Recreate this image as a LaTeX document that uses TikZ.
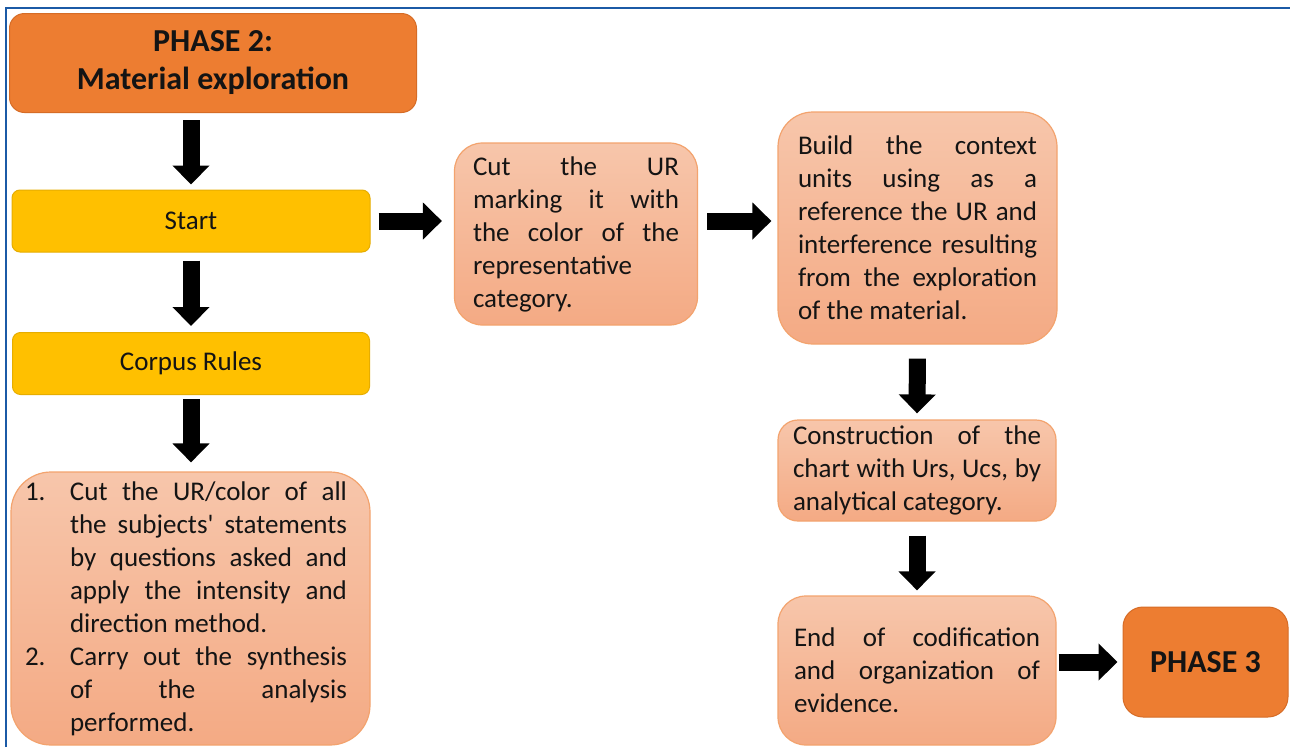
\documentclass[tikz,border=0pt]{standalone}
\usepackage{fontspec}
\setmainfont{Carlito}[Ligatures=TeXOff]
\usetikzlibrary{arrows.meta}
\definecolor{phase}{HTML}{ED7D31}
\definecolor{phaseB}{HTML}{D66C26}
\definecolor{yel}{HTML}{FFC000}
\definecolor{yelB}{HTML}{E6AD00}
\definecolor{salT}{HTML}{F7C6AB}
\definecolor{salB}{HTML}{F4AA84}
\definecolor{salE}{HTML}{F3A36E}
\definecolor{frameblue}{HTML}{1B5AA6}
\definecolor{txt}{HTML}{141414}
\begin{document}
\begin{tikzpicture}[x=1pt,y=-1pt,
  phasebox/.style={draw=phaseB, fill=phase, line width=1pt, inner sep=0pt,
    text=txt, align=center, font=\fontsize{32}{38}\selectfont\bfseries},
  yelbox/.style={draw=yelB, fill=yel, line width=1pt, rounded corners=8pt, inner sep=0pt,
    text=txt, font=\fontsize{27}{33}\selectfont},
  salbox/.style={draw=salE, top color=salT, bottom color=salB, line width=1.2pt, inner sep=0pt,
    text=txt, align=justify, font=\fontsize{27}{33}\selectfont},
  blkarrow/.style={draw=black, line width=17pt, -{Triangle[width=36pt,length=19pt]}}
]
\useasboundingbox (0,0) rectangle (1290,747);
\fill[white] (0,0) rectangle (1290,747);
\draw[frameblue, line width=2.5pt] (6,747) -- (6,8) -- (1290,8);

\node[phasebox, rounded corners=15pt, minimum width=407pt, minimum height=99pt] (ph2) at (213,63)
  {PHASE 2:\\Material exploration};
\node[yelbox, minimum width=358pt, minimum height=62pt] (start) at (191,221) {Start};
\node[yelbox, minimum width=357pt, minimum height=62pt] (corpus) at (191,363.5) {Corpus Rules};
\node[salbox, rounded corners=40pt, minimum width=359pt, minimum height=273pt, text width=322pt] (list) at (190.5,608.5)
  {{\leftskip=40.5pt\rightskip=4.5pt\relax\noindent\llap{\hbox to 45pt{1.\hfil}}Cut~the~UR/color~of~all \linebreak
   the~subjects'~statements \linebreak by~questions~asked~and \linebreak
   apply~the~intensity~and \linebreak direction~method.\par}%
   {\leftskip=40.5pt\rightskip=4.5pt\relax\noindent\llap{\hbox to 45pt{2.\hfil}}Carry~out~the~synthesis \linebreak
   of~the~analysis \linebreak performed.\par}};
\node[salbox, rounded corners=28pt, minimum width=243pt, minimum height=182pt, text width=206pt] (cut) at (576,234)
  {Cut~the~UR \linebreak marking~it~with \linebreak the~color~of~the \linebreak representative \linebreak category.};
\node[salbox, rounded corners=35pt, minimum width=279pt, minimum height=232pt, text width=239pt] (build) at (917.5,228)
  {Build~the~context \linebreak units~using~as~a \linebreak reference~the~UR~and \linebreak
   interference~resulting \linebreak from~the~exploration \linebreak of~the~material.};
\node[salbox, rounded corners=20pt, minimum width=278pt, minimum height=101pt, text width=248pt] (constr) at (917,470.5)
  {Construction~of~the \linebreak chart~with~Urs,~Ucs,~by \linebreak analytical~category.};
\node[salbox, rounded corners=28pt, minimum width=278pt, minimum height=149pt, text width=246pt] (end) at (917,670.5)
  {End~of~codification \linebreak and~organization~of \linebreak evidence.};
\node[phasebox, rounded corners=20pt, minimum width=165pt, minimum height=110pt] (ph3) at (1205.5,662) {PHASE 3};

\draw[blkarrow, shorten <=7pt, shorten >=5pt] (ph2.south -| start.north) -- (start.north);
\draw[blkarrow, shorten <=8pt, shorten >=6pt] (start.south) -- (corpus.north);
\draw[blkarrow, shorten <=4pt, shorten >=9pt] (corpus.south) -- (corpus.south |- list.north);
\draw[blkarrow, shorten <=8pt, shorten >=12pt] (start.east) -- (cut.west |- start.east);
\draw[blkarrow, shorten <=9pt, shorten >=6pt] (cut.east |- start.east) -- (build.west |- start.east);
\draw[blkarrow, shorten <=14pt, shorten >=6pt] (build.south) -- (constr.north);
\draw[blkarrow, shorten <=14pt, shorten >=5pt] (constr.south) -- (end.north);
\draw[blkarrow, shorten <=2pt, shorten >=5pt] (end.east |- ph3.west) -- (ph3.west);
\end{tikzpicture}
\end{document}
